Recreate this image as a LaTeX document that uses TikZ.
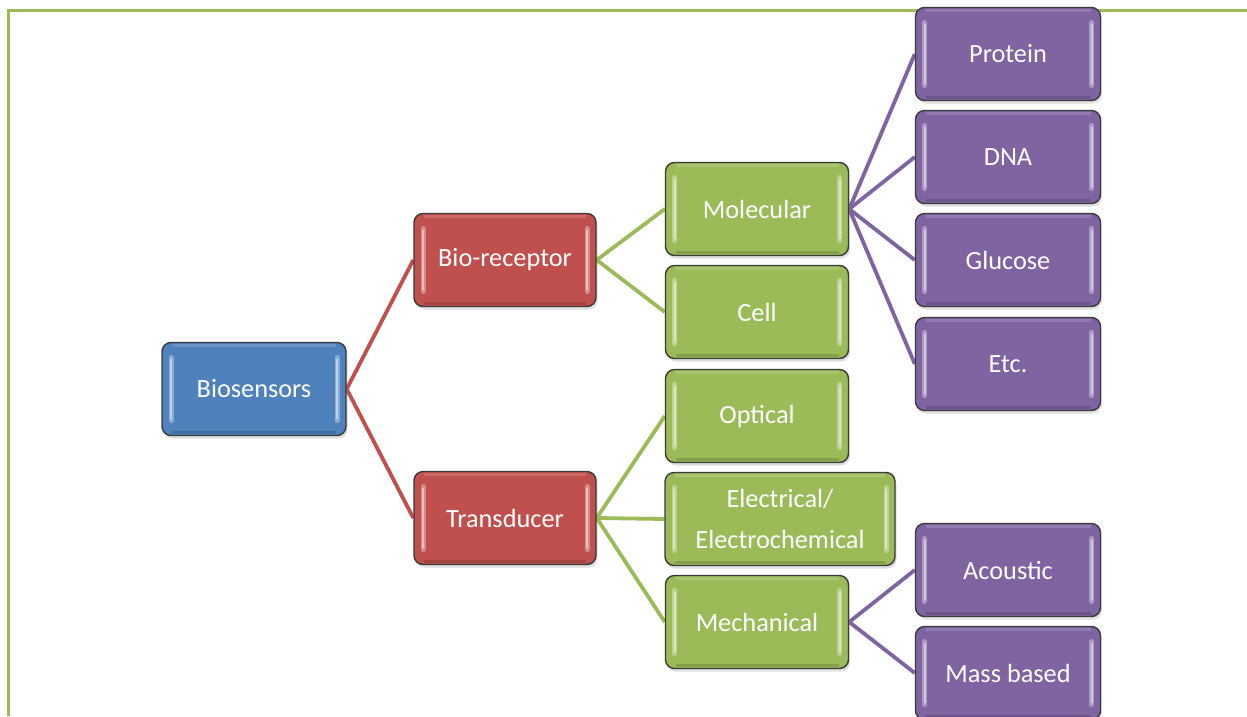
\documentclass[tikz,border=0pt]{standalone}
\usepackage{fontspec}
\setmainfont{Carlito}
\usetikzlibrary{shadows,backgrounds}
\definecolor{cblue}{HTML}{4F81BD}
\definecolor{cred}{HTML}{C0504D}
\definecolor{cgreen}{HTML}{9BBB59}
\definecolor{cpurple}{HTML}{8064A2}
\definecolor{edge}{HTML}{3A3A3A}
\tikzset{
  box/.style={draw=edge, line width=1.4pt, rounded corners=9pt,
    minimum width=184pt, minimum height=93pt, inner sep=2pt,
    text=white, align=center,
    font=\fontsize{26.3}{41}\selectfont,
    drop shadow={opacity=0.25, shadow xshift=1.5pt, shadow yshift=-3pt},
    path picture={
      \draw[white, opacity=0.35, line width=5pt, line cap=round]
        ([xshift=9pt,yshift=-15pt]path picture bounding box.north west) --
        ([xshift=9pt,yshift=15pt]path picture bounding box.south west);
      \draw[white, opacity=0.45, line width=2pt, line cap=round]
        ([xshift=9pt,yshift=-17pt]path picture bounding box.north west) --
        ([xshift=9pt,yshift=17pt]path picture bounding box.south west);
      \draw[white, opacity=0.35, line width=5pt, line cap=round]
        ([xshift=-9pt,yshift=-15pt]path picture bounding box.north east) --
        ([xshift=-9pt,yshift=15pt]path picture bounding box.south east);
      \draw[white, opacity=0.45, line width=2pt, line cap=round]
        ([xshift=-9pt,yshift=-17pt]path picture bounding box.north east) --
        ([xshift=-9pt,yshift=17pt]path picture bounding box.south east);
      \draw[white, opacity=0.15, line width=3pt]
        ([xshift=10pt,yshift=-3pt]path picture bounding box.north west) --
        ([xshift=-10pt,yshift=-3pt]path picture bounding box.north east);
      \draw[black, opacity=0.15, line width=3pt]
        ([xshift=10pt,yshift=3pt]path picture bounding box.south west) --
        ([xshift=-10pt,yshift=3pt]path picture bounding box.south east);
    }},
  bluebox/.style={box, fill=cblue},
  redbox/.style={box, fill=cred},
  greenbox/.style={box, fill=cgreen},
  purplebox/.style={box, fill=cpurple},
  conn/.style={line width=3.8pt},
}
\begin{document}
\begin{tikzpicture}[x=1pt,y=-1pt]
\useasboundingbox (0,0) rectangle (1247,716);
\clip (0,0) rectangle (1247,716);
% frame
\draw[cgreen, line width=3.5pt] (8.5,716) -- (8.5,10.5) -- (1247,10.5);

\node[bluebox] (bio) at (254,389) {Biosensors};
\node[redbox, minimum width=182pt] (rec) at (505,260) {Bio-receptor};
\node[redbox, minimum width=182pt] (tra) at (505,518) {Transducer};
\node[greenbox, minimum width=183pt] (mol) at (757,209) {Molecular};
\node[greenbox, minimum width=183pt] (cell) at (757,312) {Cell};
\node[greenbox, minimum width=183pt] (opt) at (757,416) {Optical};
\node[greenbox, minimum width=230pt] (ele) at (780,519) {Electrical/\\Electrochemical};
\node[greenbox, minimum width=183pt] (mec) at (757,622) {Mechanical};
\node[purplebox, minimum width=185pt] (pro) at (1008,54) {Protein};
\node[purplebox, minimum width=185pt] (dna) at (1008,157) {DNA};
\node[purplebox, minimum width=185pt] (glu) at (1008,260) {Glucose};
\node[purplebox, minimum width=185pt] (etc) at (1008,364) {Etc.};
\node[purplebox, minimum width=185pt] (aco) at (1008,570) {Acoustic};
\node[purplebox, minimum width=185pt] (mas) at (1008,673) {Mass based};

\begin{scope}[on background layer]
\draw[conn, cred] (bio.east) -- (rec.west);
\draw[conn, cred] (bio.east) -- (tra.west);
\draw[conn, cgreen] (rec.east) -- (mol.west);
\draw[conn, cgreen] (rec.east) -- (cell.west);
\draw[conn, cgreen] (tra.east) -- (opt.west);
\draw[conn, cgreen] (tra.east) -- (ele.west);
\draw[conn, cgreen] (tra.east) -- (mec.west);
\draw[conn, cpurple] (mol.east) -- (pro.west);
\draw[conn, cpurple] (mol.east) -- (dna.west);
\draw[conn, cpurple] (mol.east) -- (glu.west);
\draw[conn, cpurple] (mol.east) -- (etc.west);
\draw[conn, cpurple] (mec.east) -- (aco.west);
\draw[conn, cpurple] (mec.east) -- (mas.west);
\end{scope}
\end{tikzpicture}
\end{document}
